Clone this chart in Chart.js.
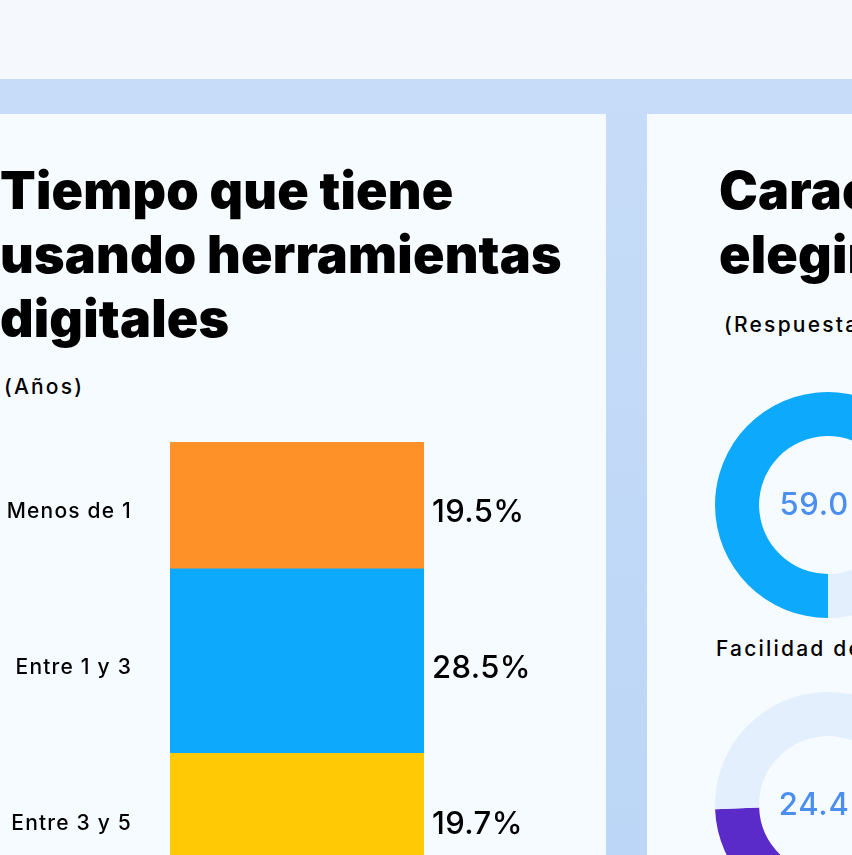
<!DOCTYPE html>
<html lang="es">
<head>
<meta charset="utf-8">
<title>Tiempo que tiene usando herramientas digitales</title>
<script src="https://cdn.jsdelivr.net/npm/chart.js@4.4.1/dist/chart.umd.min.js"></script>
<style>
  html, body { margin: 0; padding: 0; width: 852px; height: 855px; overflow: hidden; background: #f5f9fe; font-family: Inter, "Noto Sans", sans-serif; color: #000; }
  .band { position: absolute; left: 0; top: 79px; width: 852px; height: 35px; background: #c6dcf8; }
  .stripe { position: absolute; left: 606px; top: 100px; width: 41px; height: 800px; background: linear-gradient(#c6dcf8, #bcd6f7); }
  .card { position: absolute; top: 114px; height: 800px; background: #f6fbff; }
  .card.left { left: -40px; width: 646px; border-top-right-radius: 13px; }
  .card.right { left: 647px; width: 400px; border-top-left-radius: 13px; }
  .title { position: absolute; margin: 0; font-weight: 900; font-size: 52px; line-height: 64px; letter-spacing: 0.2px; white-space: nowrap; }
  .sub { position: absolute; margin: 0; font-weight: 500; font-size: 21px; letter-spacing: 2.2px; white-space: nowrap; }
  canvas { position: absolute; }
</style>
</head>
<body>
<div class="band"></div>
<div class="stripe"></div>
<div class="card left"></div>
<div class="card right"></div>

<h1 class="title" style="left:0px; top:159px;">Tiempo que tiene<br>usando herramientas<br>digitales</h1>
<p class="sub" style="left:4px; top:374px;">(Años)</p>

<h1 class="title" style="left:719px; top:159px;">Características al<br>elegir una herramienta</h1>
<p class="sub" style="left:724px; top:312px;">(Respuesta múltiple)</p>
<p class="sub" style="left:716px; top:636px;">Facilidad de uso</p>

<canvas id="bars" width="600" height="438" style="left:0; top:442px;"></canvas>
<canvas id="donut1" width="240" height="240" style="left:708px; top:385px;"></canvas>
<canvas id="donut2" width="240" height="240" style="left:708px; top:685px;"></canvas>

<script>
const categories = ["Menos de 1", "Entre 1 y 3", "Entre 3 y 5"];
const shares = [19.5, 28.5, 19.7];
const barColors = ["#fe9229", "#0da9fd", "#ffca05"];

const donutNames = ["Facilidad de uso", "Otra característica"];
const donutValues = [59.0, 24.4];
const donutColors = ["#0da9fd", "#5b2bc9"];
const restColor = "#e3effc";

const fontFamily = "Inter, 'Noto Sans', sans-serif";

const barLabels = {
  id: "barLabels",
  afterDatasetsDraw(chart) {
    const c = chart.ctx;
    c.save();
    c.textBaseline = "middle";
    c.fillStyle = "#000";
    chart.data.datasets.forEach((ds, i) => {
      const bar = chart.getDatasetMeta(i).data[0];
      const mid = (bar.y + bar.base) / 2;
      c.font = "500 21px " + fontFamily;
      c.letterSpacing = "1.2px";
      c.textAlign = "right";
      c.fillText(ds.label, 132, mid + 7);
      c.font = "500 31px " + fontFamily;
      c.letterSpacing = "0.4px";
      c.textAlign = "left";
      c.fillText(ds.data[0].toFixed(1) + "%", 432, mid + 8);
    });
    c.restore();
  }
};

new Chart(document.getElementById("bars"), {
  type: "bar",
  data: {
    labels: [""],
    datasets: categories.map((name, i) => ({
      label: name,
      data: [shares[i]],
      backgroundColor: barColors[i],
      borderWidth: 0,
      barPercentage: 1,
      categoryPercentage: 1,
      stack: "total",
    })),
  },
  options: {
    responsive: false,
    animation: false,
    layout: { padding: { left: 170, right: 176, top: 0, bottom: 0 } },
    scales: {
      x: { display: false, stacked: true },
      y: { display: false, stacked: true, reverse: true, min: 0, max: shares.reduce((a, b) => a + b, 0) },
    },
    plugins: { legend: { display: false }, tooltip: { enabled: false } },
  },
  plugins: [barLabels],
});

const centerText = {
  id: "centerText",
  afterDatasetsDraw(chart) {
    const c = chart.ctx;
    const a = chart.chartArea;
    c.save();
    c.font = "500 31px " + fontFamily;
    c.letterSpacing = "0.8px";
    c.fillStyle = "#4a8fef";
    c.textAlign = "center";
    c.textBaseline = "middle";
    c.fillText(chart.data.datasets[0].data[0].toFixed(1) + "%", (a.left + a.right) / 2 + 2, (a.top + a.bottom) / 2 + 1);
    c.restore();
  }
};

["donut1", "donut2"].forEach((id, i) => {
  new Chart(document.getElementById(id), {
    type: "doughnut",
    data: {
      labels: [donutNames[i], "Resto"],
      datasets: [{
        data: [donutValues[i], 100 - donutValues[i]],
        backgroundColor: [donutColors[i], restColor],
        borderWidth: 0,
      }],
    },
    options: {
      responsive: false,
      animation: false,
      rotation: 180,
      cutout: "61%",
      layout: { padding: 7 },
      plugins: { legend: { display: false }, tooltip: { enabled: false } },
    },
    plugins: [centerText],
  });
});
</script>
</body>
</html>
